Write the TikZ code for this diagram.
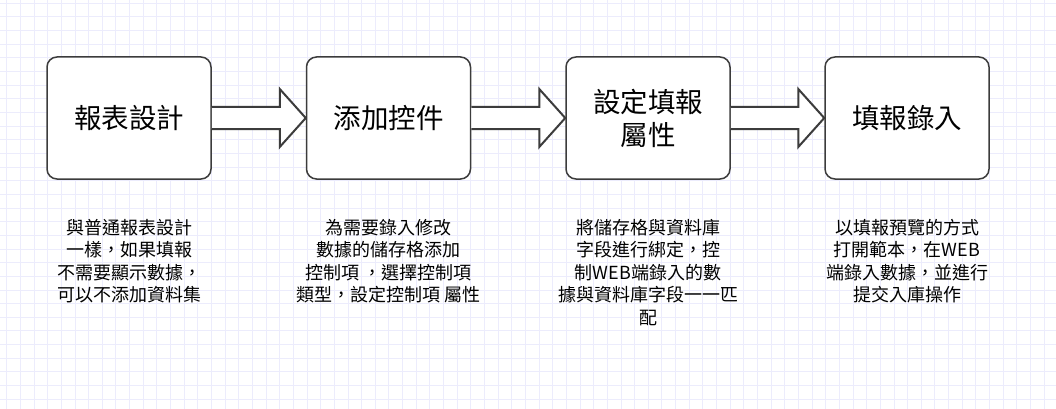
\documentclass[tikz,border=0pt]{standalone}
\usepackage{fontspec}
\setmainfont{Noto Sans CJK TC}
\usetikzlibrary{calc}
\definecolor{gridc}{RGB}{236,236,252}
\definecolor{edgec}{RGB}{60,60,60}
\tikzset{
	stage/.style={draw=edgec,line width=1.5pt,rounded corners=10pt,fill=white,minimum width=164pt,minimum height=122pt,align=center,font=\fontsize{27.5}{33}\selectfont},
	desc/.style={anchor=north,align=center,inner sep=0pt,font=\fontsize{18}{22.5}\selectfont},
	flow/.style={draw=edgec,line width=2pt,fill=white,line join=miter},
	gridline/.style={draw=gridc,line width=0.9pt}
}
\newcommand{\flowarrow}[2]{%
	\draw[flow] ($(#1.east)+(0,-11)$) -- ($(#2.west)+(-26,-11)$) -- ($(#2.west)+(-26,-29)$) -- (#2.west) -- ($(#2.west)+(-26,29)$) -- ($(#2.west)+(-26,11)$) -- ($(#1.east)+(0,11)$);}
\begin{document}
\begin{tikzpicture}[x=1pt,y=-1pt]

	\fill[white] (0,0) rectangle (1056,409);
	\useasboundingbox (0,0) rectangle (1056,409);
	\foreach \i in {0,...,77} {\draw[gridline] ({6.7+13.65*\i},0) -- ({6.7+13.65*\i},409);}
	\foreach \j in {0,...,29} {\draw[gridline] (0,{3.3+13.65*\j}) -- (1056,{3.3+13.65*\j});}

				\node[stage] 	(design)     	at (129,118) 		{報表設計};
				\node[stage] 	(addCtrl)   	at (388.5,118) 		{添加控件};
				\node[stage] 	(setAttr)   	at (648,118) 		{設定填報\\屬性};
				\node[stage] 	(entry)   		at (907,118) 		{填報錄入};

				\node[desc] (descDesign)	at (129,219) 	{與普通報表設計\\一樣，如果填報\\不需要顯示數據，\\可以不添加資料集};
				\node[desc] (descAddCtrl)	at (388.5,219) 	{為需要錄入修改\\數據的儲存格添加\\控制項 ，選擇控制項\\類型，設定控制項 屬性};
				\node[desc] (descSetAttr)	at (648,219) 	{將儲存格與資料庫\\字段進行綁定，控\\制WEB端錄入的數\\據與資料庫字段一一匹\\配};
				\node[desc] (descEntry)		at (907,219) 	{以填報預覽的方式\\打開範本，在WEB\\端錄入數據，並進行\\提交入庫操作};

				\flowarrow{design}{addCtrl}
				\flowarrow{addCtrl}{setAttr}
				\flowarrow{setAttr}{entry}

\end{tikzpicture}
\end{document}
